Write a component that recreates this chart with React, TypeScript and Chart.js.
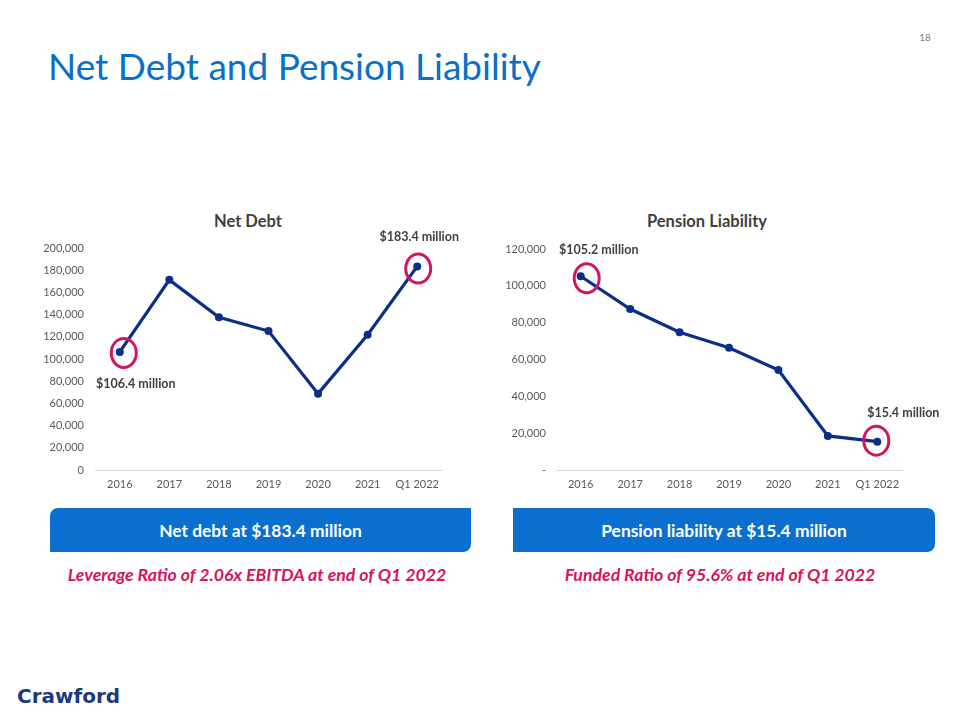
import React, { useEffect, useRef } from "react";
import { Chart, registerables } from "chart.js";

Chart.register(...registerables);

// Category labels shared by both charts
const years = ["2016", "2017", "2018", "2019", "2020", "2021", "Q1 2022"];

// Net debt, $000s
const netDebt = [106400, 171300, 137600, 125200, 68800, 121800, 183400];
const netDebtTicks = { min: 0, max: 200000, step: 20000 };

// Pension liability, $000s
const pension = [105200, 87400, 74800, 66400, 54300, 18500, 15400];
const pensionTicks = { min: 0, max: 120000, step: 20000 };

const FONT = "Lato, 'Open Sans', sans-serif";
const NAVY = "#0A2F86";
const PINK = "#D4145C";
const DARK_TEXT = "#404040";
const TICK_TEXT = "#595959";
const BLUE = "#0B6FCF";

type Callout = {
  index: number;
  labelDx: number;
  labelDy: number;
  ringDx: number;
  ringDy: number;
};

// Draws a ring around highlighted points and a "$x million" note beside them
const calloutPlugin = {
  id: "callouts",
  afterDatasetsDraw(chart: any, _args: any, opts: any) {
    const meta = chart.getDatasetMeta(0);
    const values = chart.data.datasets[0].data as number[];
    const ctx = chart.ctx as CanvasRenderingContext2D;
    (opts.items || []).forEach((c: Callout) => {
      const pt = meta.data[c.index];
      if (!pt) return;
      ctx.save();
      ctx.strokeStyle = PINK;
      ctx.lineWidth = 3;
      ctx.beginPath();
      ctx.ellipse(pt.x + c.ringDx, pt.y + c.ringDy, 12.5, 14.5, 0, 0, Math.PI * 2);
      ctx.stroke();
      ctx.fillStyle = DARK_TEXT;
      ctx.font = `bold 12.5px ${FONT}`;
      ctx.textAlign = "center";
      ctx.textBaseline = "middle";
      ctx.fillText(
        `$${(values[c.index] / 1000).toFixed(1)} million`,
        pt.x + c.labelDx,
        pt.y + c.labelDy
      );
      ctx.restore();
    });
  },
};

type PanelProps = {
  values: number[];
  ticks: { min: number; max: number; step: number };
  zeroLabel: string;
  left: number;
  width: number;
  axisWidth: number;
  padRight: number;
  padTop: number;
  tickPad: number;
  callouts: Callout[];
};

function LinePanel(p: PanelProps) {
  const ref = useRef<HTMLCanvasElement | null>(null);

  useEffect(() => {
    if (!ref.current) return;
    const chart = new Chart(ref.current, {
      type: "line",
      data: {
        labels: years,
        datasets: [
          {
            data: p.values,
            borderColor: NAVY,
            backgroundColor: NAVY,
            borderWidth: 3.2,
            pointRadius: 4,
            pointBackgroundColor: NAVY,
            pointBorderWidth: 0,
            tension: 0,
          },
        ],
      },
      options: {
        responsive: false,
        animation: false,
        devicePixelRatio: 1,
        layout: { padding: { left: 0, right: p.padRight, top: p.padTop, bottom: 0 } },
        plugins: {
          legend: { display: false },
          tooltip: { enabled: false },
          title: { display: false },
          callouts: { items: p.callouts },
        } as any,
        scales: {
          x: {
            offset: true,
            grid: { display: false, drawTicks: false },
            border: { display: true, color: "#D9D9D9", width: 1 },
            ticks: {
              color: TICK_TEXT,
              font: { family: FONT, size: 11 },
              padding: 8,
              maxRotation: 0,
              autoSkip: false,
            },
            afterFit: (s: any) => {
              s.height = 30;
            },
          },
          y: {
            min: p.ticks.min,
            max: p.ticks.max,
            grid: { display: false, drawTicks: false },
            border: { display: false },
            ticks: {
              stepSize: p.ticks.step,
              color: TICK_TEXT,
              font: { family: FONT, size: 11 },
              padding: p.tickPad,
              callback: (v: any) =>
                Number(v) === 0 ? p.zeroLabel : Number(v).toLocaleString("en-US"),
            },
            afterFit: (s: any) => {
              s.width = p.axisWidth;
            },
          },
        },
      },
      plugins: [calloutPlugin],
    });
    return () => chart.destroy();
  }, []);

  return (
    <canvas
      ref={ref}
      width={p.width}
      height={300}
      style={{ position: "absolute", left: p.left, top: 200, width: p.width, height: 300 }}
    />
  );
}

const abs = (extra: React.CSSProperties): React.CSSProperties => ({
  position: "absolute",
  fontFamily: FONT,
  whiteSpace: "nowrap",
  ...extra,
});

export default function App() {
  return (
    <div
      style={{
        position: "fixed",
        left: 0,
        top: 0,
        width: 960,
        height: 720,
        background: "#ffffff",
        overflow: "hidden",
      }}
    >
      <div style={abs({ left: 48, top: 44, fontSize: 37, lineHeight: "44px", color: "#0A70C6" })}>
        Net Debt and Pension Liability
      </div>
      <div style={abs({ left: 915, top: 31, width: 20, textAlign: "center", fontSize: 10, lineHeight: "12px", color: "#808080" })}>
        18
      </div>

      <div style={abs({ left: 148, top: 211, width: 200, textAlign: "center", fontSize: 16.5, fontWeight: 700, lineHeight: "20px", color: DARK_TEXT })}>
        Net Debt
      </div>
      <div style={abs({ left: 607, top: 211, width: 200, textAlign: "center", fontSize: 16.5, fontWeight: 700, lineHeight: "20px", color: DARK_TEXT })}>
        Pension Liability
      </div>

      <LinePanel
        values={netDebt}
        ticks={netDebtTicks}
        zeroLabel="0"
        left={26}
        width={444}
        axisWidth={69}
        padRight={28}
        padTop={48}
        tickPad={11}
        callouts={[
          { index: 0, labelDx: 16, labelDy: 32, ringDx: 4, ringDy: 1 },
          { index: 6, labelDx: 2, labelDy: -29, ringDx: 1, ringDy: 2 },
        ]}
      />
      <LinePanel
        values={pension}
        ticks={pensionTicks}
        zeroLabel="-"
        left={470}
        width={480}
        axisWidth={86}
        padRight={48}
        padTop={49}
        tickPad={10}
        callouts={[
          { index: 0, labelDx: 18, labelDy: -26, ringDx: 6, ringDy: 2 },
          { index: 6, labelDx: 26, labelDy: -29, ringDx: -1, ringDy: -1 },
        ]}
      />

      <div
        style={abs({
          left: 50,
          top: 508,
          width: 421,
          height: 44,
          background: BLUE,
          borderRadius: "8px 0 8px 0",
          color: "#ffffff",
          fontSize: 17.4,
          fontWeight: 700,
          lineHeight: "46px",
          textAlign: "center",
        })}
      >
        Net debt at $183.4 million
      </div>
      <div
        style={abs({
          left: 513,
          top: 508,
          width: 422,
          height: 44,
          background: BLUE,
          borderRadius: "0 8px 8px 0",
          color: "#ffffff",
          fontSize: 17.4,
          fontWeight: 700,
          lineHeight: "46px",
          textAlign: "center",
        })}
      >
        Pension liability at $15.4 million
      </div>

      <div style={abs({ left: 57, top: 564, width: 400, textAlign: "center", fontSize: 17.7, fontWeight: 700, fontStyle: "italic", lineHeight: "22px", color: PINK })}>
        Leverage Ratio of 2.06x EBITDA at end of Q1 2022
      </div>
      <div style={abs({ left: 520, top: 564, width: 400, textAlign: "center", fontSize: 17.7, fontWeight: 700, fontStyle: "italic", lineHeight: "22px", color: PINK })}>
        Funded Ratio of 95.6% at end of Q1 2022
      </div>

      <div style={abs({ left: 17, top: 685, fontFamily: "'DejaVu Sans', sans-serif", fontSize: 20, fontWeight: 700, lineHeight: "22px", color: "#1F3A7C" })}>
        Crawford
      </div>
    </div>
  );
}
